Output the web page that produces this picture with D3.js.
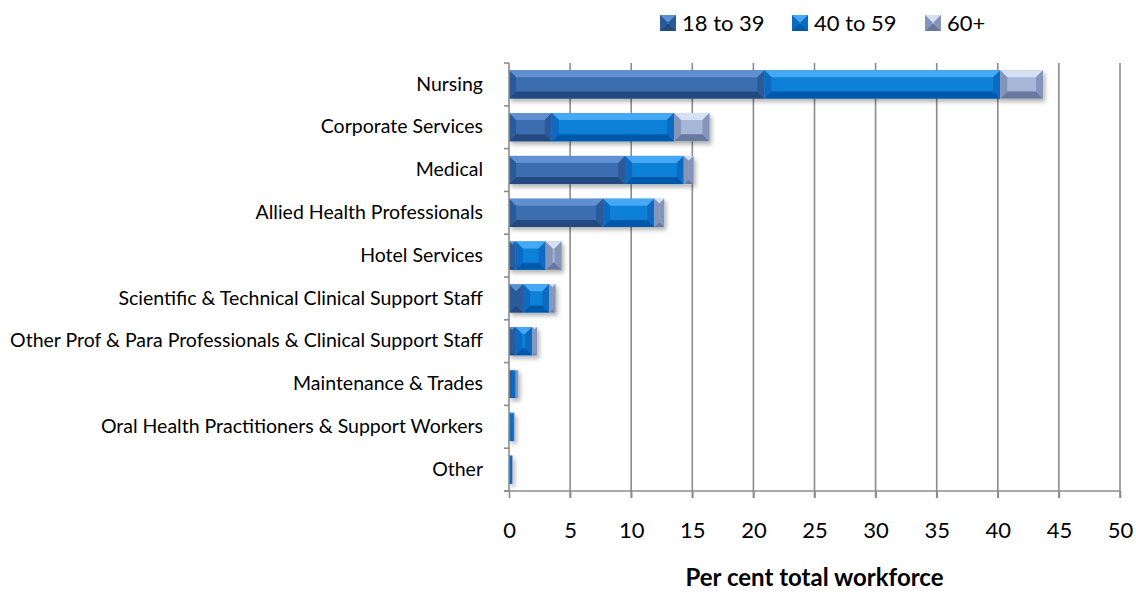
<!DOCTYPE html>
<html>
<head>
<meta charset="utf-8">
<script src="https://cdn.jsdelivr.net/npm/d3@7"></script>
<style>
  body { margin: 0; background: #fff; }
  text { font-family: Lato, "Open Sans", sans-serif; fill: #000; }
</style>
</head>
<body>
<div id="chart"></div>
<script>
var width = 1136,
    height = 598;

// data (per cent of total workforce)
const categories = ["Nursing", "Corporate Services", "Medical", "Allied Health Professionals",
    "Hotel Services", "Scientific & Technical Clinical Support Staff",
    "Other Prof & Para Professionals & Clinical Support Staff", "Maintenance & Trades",
    "Oral Health Practitioners & Support Workers", "Other"];
const seriesNames = ["18 to 39", "40 to 59", "60+"];
const age18to39 = [20.9, 3.5, 9.5, 7.7, 0.55, 1.15, 0.5, 0.25, 0.1, 0.05];
const age40to59 = [19.3, 10.0, 4.8, 4.2, 2.45, 2.15, 1.4, 0.3, 0.3, 0.2];
const age60plus = [3.5, 2.9, 0.8, 0.8, 1.3, 0.5, 0.4, 0.2, 0.05, 0.05];
const xTicks = [0, 5, 10, 15, 20, 25, 30, 35, 40, 45, 50];

// face / top / bottom / side colours for the bevelled look
var palette = [
    { face: "#3a6db0", top: "#5f90d2", bottom: "#234a80", side: "#2c5a98" },
    { face: "#0c80d8", top: "#44a8f4", bottom: "#0058aa", side: "#086ac0" },
    { face: "#a6b6d6", top: "#d4e0f4", bottom: "#68789e", side: "#8494ba" }
];

var rows = categories.map((c, i) => ({ cat: c, values: [age18to39[i], age40to59[i], age60plus[i]] }));

var svg = d3.select("#chart").append("svg")
    .attr("width", width)
    .attr("height", height);

var defs = svg.append("defs");
var shadow = defs.append("filter").attr("id", "shadow")
    .attr("x", "-10%").attr("y", "-20%").attr("width", "130%").attr("height", "160%");
shadow.append("feDropShadow")
    .attr("dx", 2).attr("dy", 3).attr("stdDeviation", 2)
    .attr("flood-color", "#000").attr("flood-opacity", 0.3);

var xScale = d3.scaleLinear().domain([0, 50]).range([509, 1120]),
    yScale = d3.scaleBand().domain(categories).range([63, 491]).paddingInner(0.34).paddingOuter(0.17);

var plotTop = 63, plotBottom = 491;

// gridlines
svg.append("g").selectAll("line")
    .data(xTicks.slice(1))
    .enter().append("line")
    .attr("x1", d => xScale(d)).attr("x2", d => xScale(d))
    .attr("y1", plotTop).attr("y2", plotBottom + 7)
    .attr("stroke", "#8c8c8c").attr("stroke-width", 1.6);

// x axis
var xAxis = d3.axisBottom(xScale).tickValues(xTicks).tickSize(7).tickPadding(24);
var gx = svg.append("g")
    .attr("transform", "translate(0," + plotBottom + ")")
    .call(xAxis);
gx.select(".domain").attr("stroke", "#8c8c8c").attr("stroke-width", 1.6)
    .attr("d", "M" + (xScale(0) - 5) + ",0H" + xScale(50));
gx.selectAll(".tick line").attr("stroke", "#8c8c8c").attr("stroke-width", 1.6);
gx.selectAll(".tick text").style("font-size", "22px").attr("fill", "#000");

// bevelled segment
function bevelBar(g, x, y, w, h, col) {
    var b = Math.min(7, w / 2, h / 2);
    g.append("rect").attr("x", x).attr("y", y).attr("width", w).attr("height", h).attr("fill", col.face);
    g.append("path").attr("fill", col.top)
        .attr("d", `M${x},${y}H${x + w}L${x + w - b},${y + b}H${x + b}Z`);
    g.append("path").attr("fill", col.bottom)
        .attr("d", `M${x},${y + h}H${x + w}L${x + w - b},${y + h - b}H${x + b}Z`);
    g.append("path").attr("fill", col.side)
        .attr("d", `M${x},${y}L${x + b},${y + b}V${y + h - b}L${x},${y + h}Z`);
    g.append("path").attr("fill", col.side)
        .attr("d", `M${x + w},${y}L${x + w - b},${y + b}V${y + h - b}L${x + w},${y + h}Z`);
}

// bars
var barsG = svg.append("g").attr("filter", "url(#shadow)");
rows.forEach(row => {
    var start = 0;
    row.values.forEach((v, si) => {
        var x0 = xScale(start), x1 = xScale(start + v);
        var seg = barsG.append("g");
        bevelBar(seg, x0, yScale(row.cat), x1 - x0, yScale.bandwidth(), palette[si]);
        start += v;
    });
});

// y axis
var yAxis = d3.axisLeft(yScale).tickSize(0).tickPadding(26);
var gy = svg.append("g")
    .attr("transform", "translate(" + xScale(0) + ",0)")
    .call(yAxis);
gy.select(".domain").attr("stroke", "#8c8c8c").attr("stroke-width", 1.6)
    .attr("d", "M0," + plotTop + "V" + plotBottom);
gy.selectAll(".tick text").style("font-size", "19.5px").attr("fill", "#000");

// category boundary ticks
var step = yScale.step();
var bounds = d3.range(categories.length + 1).map(i => plotTop + i * step);
gy.append("g").selectAll("line")
    .data(bounds)
    .enter().append("line")
    .attr("x1", -5).attr("x2", 0)
    .attr("y1", d => d).attr("y2", d => d)
    .attr("stroke", "#8c8c8c").attr("stroke-width", 1.6);

// axis title
svg.append("text")
    .attr("x", (xScale(0) + xScale(50)) / 2)
    .attr("y", 586)
    .attr("text-anchor", "middle")
    .style("font-size", "24px")
    .style("font-weight", "bold")
    .text("Per cent total workforce");

// legend
var legendX = [660, 792, 925];
var legend = svg.append("g");
seriesNames.forEach((name, i) => {
    var lg = legend.append("g").attr("transform", "translate(" + legendX[i] + ",15)");
    var sq = lg.append("g");
    bevelBar(sq, 0, 0, 16, 16, palette[i]);
    lg.append("text")
        .attr("x", 22).attr("y", 16)
        .style("font-size", "22px")
        .text(name);
});
</script>
</body>
</html>
